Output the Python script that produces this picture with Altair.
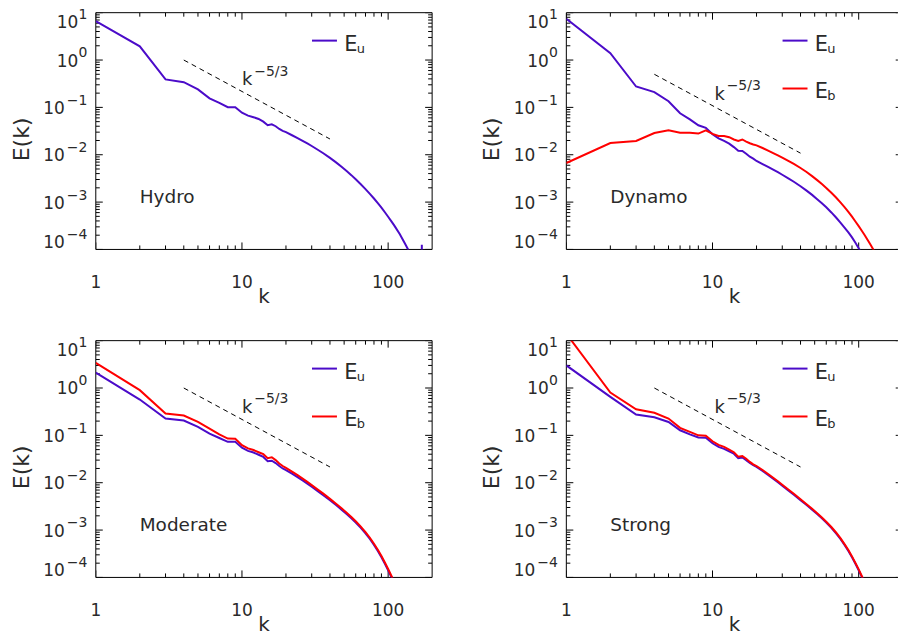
import altair as alt
import pandas as pd

# ---------------- data ----------------
K = [1, 2, 3, 4, 5, 6, 7, 8, 9, 10, 11, 12, 13, 14, 15, 16, 17, 18, 19, 20,
     22, 24, 26, 28, 30, 33, 36, 40, 44, 48, 52, 56, 60, 65, 70, 75, 80, 85, 90, 95, 100, 105, 110]
K_HYDRO = K + [120, 130, 140, 169, 170, 171]
K_DYN_B = K + [120, 130]

HYDRO_EU = [6.6, 1.95, 0.39, 0.34, 0.24, 0.155, 0.125, 0.101, 0.101, 0.077,
            0.067, 0.062, 0.057, 0.050, 0.042, 0.044, 0.040, 0.035, 0.032, 0.030,
            0.0258, 0.0224, 0.0196, 0.0173, 0.0153, 0.01276, 0.01076, 0.00857, 0.0069, 0.00557,
            0.00453, 0.00371, 0.00304, 0.00238, 0.00188, 0.00149, 0.00119, 0.000953, 0.000764, 0.00061,
            0.000491, 0.000397, 0.000322,
            0.000212, 0.000135, 0.000088, 0.000001, 0.000125, 0.000001]

DYNAMO_EU = [7.4, 1.39, 0.276, 0.21, 0.135, 0.075, 0.056, 0.042, 0.037, 0.027,
             0.0222, 0.0196, 0.0172, 0.0145, 0.0121, 0.0120, 0.0105, 0.0091, 0.0083, 0.0074,
             0.00637, 0.00552, 0.00483, 0.00427, 0.00378, 0.00318, 0.00269, 0.00216, 0.00175, 0.00142,
             0.00115, 0.000946, 0.000778, 0.000605, 0.000473, 0.00037, 0.00029, 0.000229, 0.00018, 0.000138,
             0.000106, 0.000083, 0.000066]

DYNAMO_EB = [0.0067, 0.0177, 0.0195, 0.0287, 0.0327, 0.0290, 0.0290, 0.0280, 0.0327, 0.0275,
             0.0250, 0.0248, 0.0235, 0.0210, 0.0196, 0.0210, 0.0190, 0.0175, 0.0165, 0.0158,
             0.01387, 0.01222, 0.01086, 0.00973, 0.00873, 0.00745, 0.00641, 0.00525, 0.00432, 0.00354,
             0.00291, 0.0024, 0.00199, 0.00157, 0.00125, 0.000986, 0.000782, 0.000621, 0.000492, 0.000389,
             0.00031, 0.000248, 0.0002,
             0.000129, 0.0000839]

MODERATE_EU = [2.11, 0.57, 0.226, 0.205, 0.151, 0.109, 0.088, 0.073, 0.073, 0.055,
               0.047, 0.0434, 0.039, 0.035, 0.0284, 0.0292, 0.026, 0.0225, 0.0200, 0.0185,
               0.01556, 0.01315, 0.01117, 0.00957, 0.00824, 0.00665, 0.00547, 0.00426, 0.00338, 0.0027,
               0.00218, 0.00177, 0.00144, 0.001114, 0.000855, 0.000649, 0.000486, 0.000363, 0.000267, 0.000194,
               0.000142, 0.000103, 0.0000755]

MODERATE_EB = [3.39, 0.90, 0.288, 0.262, 0.192, 0.139, 0.105, 0.0855, 0.085, 0.062,
               0.053, 0.049, 0.044, 0.040, 0.033, 0.0345, 0.030, 0.0255, 0.0225, 0.0205,
               0.0171, 0.0144, 0.0122, 0.0104, 0.0089, 0.00715, 0.00587, 0.00456, 0.00361, 0.00288,
               0.00232, 0.00188, 0.00153, 0.00118, 0.000905, 0.000688, 0.000515, 0.000385, 0.000284, 0.000206,
               0.000151, 0.00011, 0.000081]

STRONG_EU = [3.0, 0.65, 0.275, 0.241, 0.192, 0.128, 0.105, 0.090, 0.089, 0.068,
             0.057, 0.052, 0.046, 0.041, 0.033, 0.034, 0.030, 0.026, 0.0234, 0.0215,
             0.01766, 0.01459, 0.01211, 0.01021, 0.00863, 0.00684, 0.00555, 0.00426, 0.00338, 0.0027,
             0.00218, 0.00177, 0.00144, 0.001114, 0.000855, 0.000649, 0.000486, 0.000363, 0.000267, 0.000194,
             0.000142, 0.000103, 0.0000755]

STRONG_EB = [14.0, 0.80, 0.356, 0.30, 0.226, 0.144, 0.118, 0.100, 0.098, 0.075,
             0.063, 0.057, 0.050, 0.044, 0.0355, 0.0365, 0.032, 0.0275, 0.0245, 0.0225,
             0.01854, 0.01532, 0.01272, 0.01072, 0.00906, 0.00718, 0.00583, 0.00447, 0.00352, 0.00281,
             0.00227, 0.00184, 0.0015, 0.001159, 0.000889, 0.000675, 0.000505, 0.000378, 0.000278, 0.000202,
             0.000148, 0.000107, 0.0000785]

PANEL_NAMES = ["Hydro", "Dynamo", "Moderate", "Strong"]
SLOPE_K = [4, 40]
SLOPE_E = [[1.0, 0.0215], [0.5, 0.0108], [1.0, 0.0215], [1.0, 0.0215]]
SLOPE_LABEL_K = [10.0, 10.3, 10.0, 10.3]
SLOPE_LABEL_E = [0.29, 0.145, 0.29, 0.29]

X_MAJOR = [1, 10, 100]
X_MAJOR_LABELS = ["1", "10", "100"]
X_MINOR = [2, 3, 4, 5, 6, 7, 8, 9, 20, 30, 40, 50, 60, 70, 80, 90]
Y_EXP = [1, 0, -1, -2, -3, -4]
Y_MINOR_MULT = [2, 3, 4, 5, 6, 7, 8, 9]

# ---------------- styling / layout ----------------
FONT = "DejaVu Sans"
INK = "#000000"
TEXT = "#2a2a2a"
PURPLE = "#4B0BC9"
RED = "#FF0000"
DECADE = 146.5
H = 237.3
W_FULL = 337.1
W_CLIP = 332.3
COL_GAP = 133.6
ROW_GAP = 90.7
MAJ = 7
MIN = 4

ONE = pd.DataFrame({"_": [0]})


def txt(s, x, y, size, align="left", baseline="alphabetic", angle=None):
    kw = dict(font=FONT, fontSize=size, align=align, baseline=baseline, color=TEXT)
    if angle is not None:
        kw["angle"] = angle
    return alt.Chart(pd.DataFrame({"t": [s]})).mark_text(**kw).encode(
        x=alt.value(x), y=alt.value(y), text="t:N")


def seg(x1, x2, y1, y2, color=INK, width=1.0, opacity=1.0):
    return alt.Chart(ONE).mark_rule(color=color, strokeWidth=width, strokeOpacity=opacity).encode(
        x=alt.value(x1), x2=alt.value(x2), y=alt.value(y1), y2=alt.value(y2))


def sup(e):
    return str(e).replace("-", "\u2212")


def panel(idx, curves, legend, right, anchor=False):
    W = W_CLIP if right else W_FULL
    xs = alt.Scale(type="log", domain=[1, 10 ** (W / DECADE)], nice=False)
    ys = alt.Scale(type="log", domain=[1e-4, 10], nice=False)

    def X(f="k"):
        return alt.X(f + ":Q", scale=xs, axis=None)

    def Y(f="E"):
        return alt.Y(f + ":Q", scale=ys, axis=None)

    layers = []
    # frame
    layers.append(seg(0, W, 0, 0))
    layers.append(seg(0, W, H, H))
    layers.append(seg(0, 0, 0, H))
    if not right:
        layers.append(seg(W, W, 0, H))
    if anchor:
        layers.append(seg(-96, -96, -12, -11, opacity=0))

    # x ticks (bottom & top, inward)
    for vals, ln in ((X_MAJOR, MAJ), (X_MINOR, MIN)):
        d = pd.DataFrame({"k": vals})
        layers.append(alt.Chart(d).mark_rule(color=INK, clip=True).encode(
            x=X(), y=alt.value(H), y2=alt.value(H - ln)))
        layers.append(alt.Chart(d).mark_rule(color=INK, clip=True).encode(
            x=X(), y=alt.value(0), y2=alt.value(ln)))
    # y ticks (left & right, inward)
    y_major = [10.0 ** e for e in Y_EXP]
    y_minor = [m * 10.0 ** e for e in range(-4, 1) for m in Y_MINOR_MULT]
    for vals, ln in ((y_major, MAJ), (y_minor, MIN)):
        d = pd.DataFrame({"E": vals})
        layers.append(alt.Chart(d).mark_rule(color=INK, clip=True).encode(
            y=Y(), x=alt.value(0), x2=alt.value(ln)))
        layers.append(alt.Chart(d).mark_rule(color=INK, clip=True).encode(
            y=Y(), x=alt.value(W_FULL), x2=alt.value(W_FULL - ln)))

    # x tick labels
    d = pd.DataFrame({"k": X_MAJOR, "t": X_MAJOR_LABELS})
    layers.append(alt.Chart(d).mark_text(font=FONT, fontSize=17, align="center",
                                         baseline="alphabetic", color=TEXT).encode(
        x=X(), y=alt.value(H + 39), text="t:N"))

    # y tick labels: "10" + superscript exponent
    groups = [([1], 8.5), ([0], 0), ([-1, -2, -3], 0), ([-4], -7.5)]
    for exps, shift in groups:
        d = pd.DataFrame({"E": [10.0 ** e for e in exps], "b": ["10"] * len(exps),
                          "x": [sup(e) for e in exps]})
        base_right = -17.5 if exps[0] >= 0 else -31
        layers.append(alt.Chart(d).mark_text(font=FONT, fontSize=17, align="right",
                                             baseline="alphabetic", dy=6.5 + shift, color=TEXT).encode(
            y=Y(), x=alt.value(base_right), text="b:N"))
        layers.append(alt.Chart(d).mark_text(font=FONT, fontSize=14, align="right",
                                             baseline="alphabetic", dy=-2.6 + shift, color=TEXT).encode(
            y=Y(), x=alt.value(-8.5), text="x:N"))

    # axis titles
    layers.append(txt("k", 168.5, H + 54, 20, align="center"))
    layers.append(txt("E(k)", -74, 127, 22, align="center", baseline="middle", angle=270))

    # k^-5/3 reference slope
    d = pd.DataFrame({"k": SLOPE_K, "E": SLOPE_E[idx]})
    layers.append(alt.Chart(d).mark_line(color=INK, strokeWidth=1, strokeDash=[5, 4], clip=True).encode(
        x=X(), y=Y()))
    d = pd.DataFrame({"k": [SLOPE_LABEL_K[idx]], "E": [SLOPE_LABEL_E[idx]],
                      "a": ["k"], "b": ["\u22125/3"]})
    layers.append(alt.Chart(d).mark_text(font=FONT, fontSize=18, align="left",
                                         baseline="alphabetic", color=TEXT).encode(
        x=X(), y=Y(), text="a:N"))
    layers.append(alt.Chart(d).mark_text(font=FONT, fontSize=14, align="left",
                                         baseline="alphabetic", dx=12.3, dy=-10, color=TEXT).encode(
        x=X(), y=Y(), text="b:N"))

    # panel name
    layers.append(txt(PANEL_NAMES[idx], 44, 190.3, 18.5))

    # spectra
    for ks, es, color in curves:
        d = pd.DataFrame({"k": ks, "E": es})
        layers.append(alt.Chart(d).mark_line(color=color, strokeWidth=2, clip=True).encode(
            x=X(), y=Y()))

    # legend
    for i, (sub, color) in enumerate(legend):
        yl = 28 + 48 * i
        layers.append(seg(216.7, 241.7, yl, yl, color=color, width=2))
        layers.append(txt("E", 249, yl + 10, 21))
        layers.append(txt(sub, 261.5, yl + 12, 13))

    return alt.layer(*layers).properties(width=W, height=H)


p1 = panel(0, [(K_HYDRO, HYDRO_EU, PURPLE)], [("u", PURPLE)], right=False, anchor=True)
p2 = panel(1, [(K, DYNAMO_EU, PURPLE), (K_DYN_B, DYNAMO_EB, RED)],
           [("u", PURPLE), ("b", RED)], right=True)
p3 = panel(2, [(K, MODERATE_EU, PURPLE), (K, MODERATE_EB, RED)],
           [("u", PURPLE), ("b", RED)], right=False)
p4 = panel(3, [(K, STRONG_EU, PURPLE), (K, STRONG_EB, RED)],
           [("u", PURPLE), ("b", RED)], right=True)

chart = alt.concat(
    p1, p2, p3, p4, columns=2,
    spacing=alt.RowColnumber(row=ROW_GAP, column=COL_GAP),
    bounds="flush",
).properties(padding=0).configure_view(strokeWidth=0)

chart.save("out.html", embed_options={"renderer": "svg", "actions": False})
